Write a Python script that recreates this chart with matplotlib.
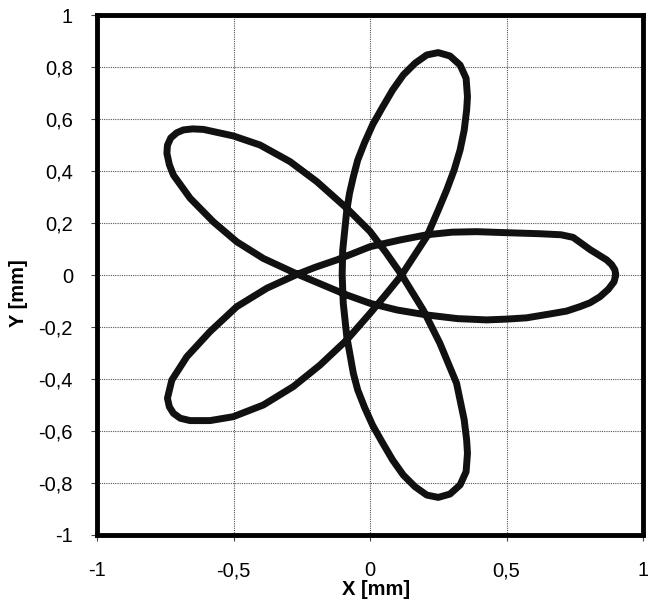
import matplotlib
matplotlib.use("Agg")
import matplotlib.pyplot as plt

plt.rcParams['font.family'] = ['Liberation Sans', 'DejaVu Sans']
plt.rcParams['axes.unicode_minus'] = False

# Digitized trajectory (mm), traced in order along the closed curve
x_mm = [0.900, 0.897, 0.885, 0.867, 0.806, 0.744, 0.700, 0.623, 0.500, 0.390,
        0.300, 0.208, 0.110, 0.000, -0.122, -0.200, -0.268, -0.378, -0.488, -0.586,
        -0.671, -0.726, -0.742, -0.735, -0.720, -0.695, -0.659, -0.586, -0.501, -0.391,
        -0.281, -0.183, -0.085, 0.000, 0.058, 0.116, 0.208, 0.250, 0.281, 0.308,
        0.330, 0.345, 0.354, 0.357, 0.352, 0.330, 0.293, 0.250, 0.208, 0.165,
        0.122, 0.083, 0.045, 0.010, -0.020, -0.045, -0.061, -0.075, -0.085, -0.100,
        -0.102, -0.098, -0.085, -0.061, -0.045, -0.020, 0.010, 0.045, 0.083, 0.122,
        0.165, 0.208, 0.250, 0.293, 0.330, 0.352, 0.357, 0.354, 0.345, 0.317,
        0.256, 0.195, 0.116, 0.058, 0.000, -0.085, -0.195, -0.293, -0.403, -0.501,
        -0.610, -0.650, -0.684, -0.708, -0.730, -0.742, -0.744, -0.735, -0.720, -0.659,
        -0.574, -0.488, -0.391, -0.268, -0.171, -0.085, 0.000, 0.100, 0.208, 0.320,
        0.427, 0.500, 0.574, 0.671, 0.720, 0.769, 0.806, 0.842, 0.873, 0.894,
        0.900]
y_mm = [0.000, 0.020, 0.040, 0.058, 0.098, 0.145, 0.155, 0.159, 0.163, 0.167,
        0.165, 0.155, 0.135, 0.109, 0.058, 0.030, 0.002, -0.051, -0.122, -0.218,
        -0.315, -0.405, -0.475, -0.508, -0.533, -0.552, -0.561, -0.561, -0.546, -0.501,
        -0.430, -0.347, -0.250, -0.148, -0.075, 0.000, 0.148, 0.250, 0.328, 0.404,
        0.482, 0.558, 0.636, 0.687, 0.758, 0.809, 0.844, 0.857, 0.848, 0.816,
        0.771, 0.713, 0.645, 0.580, 0.510, 0.443, 0.379, 0.315, 0.250, 0.096,
        0.000, -0.109, -0.238, -0.379, -0.443, -0.510, -0.580, -0.645, -0.713, -0.771,
        -0.816, -0.848, -0.857, -0.844, -0.809, -0.758, -0.687, -0.636, -0.558, -0.417,
        -0.263, -0.135, 0.000, 0.087, 0.168, 0.257, 0.360, 0.437, 0.501, 0.536,
        0.561, 0.563, 0.559, 0.548, 0.528, 0.500, 0.469, 0.425, 0.385, 0.296,
        0.205, 0.128, 0.064, 0.004, -0.039, -0.077, -0.109, -0.135, -0.154, -0.168,
        -0.173, -0.170, -0.165, -0.148, -0.139, -0.122, -0.107, -0.084, -0.055, -0.026,
        0.000]

x_ticks = [-1, -0.5, 0, 0.5, 1]
x_tick_labels = ['-1', '-0,5', '0', '0,5', '1']
y_ticks = [-1, -0.8, -0.6, -0.4, -0.2, 0, 0.2, 0.4, 0.6, 0.8, 1]
y_tick_labels = ['-1', '-0,8', '-0,6', '-0,4', '-0,2', '0', '0,2', '0,4', '0,6', '0,8', '1']

fig = plt.figure(figsize=(6.48, 6.05), dpi=100)
ax = fig.add_axes([0.1497, 0.1165, 0.8426, 0.8579])

ax.plot(x_mm, y_mm, color='#111111', lw=5, solid_joinstyle='round', solid_capstyle='round', zorder=3)

ax.set_xlim(-1, 1)
ax.set_ylim(-1, 1)
ax.set_xticks(x_ticks)
ax.set_xticklabels(x_tick_labels)
ax.set_yticks(y_ticks)
ax.set_yticklabels(y_tick_labels)

ax.grid(True, color='#555555', linestyle=(0, (1, 1)), lw=0.8, zorder=0)
for s in ax.spines.values():
    s.set_linewidth(3.5)
    s.set_color('black')
    s.set_zorder(4)

ax.tick_params(axis='both', direction='out', length=4.3, width=0.8, color='#444444',
               labelsize=14.5, labelcolor='black')
ax.tick_params(axis='x', pad=15)
ax.tick_params(axis='y', pad=13)

ax.set_xlabel('X [mm]', fontsize=14.5, fontweight='bold')
ax.set_ylabel('Y [mm]', fontsize=14.5, fontweight='bold')
ax.xaxis.set_label_coords(0.512, -0.0877)
ax.yaxis.set_label_coords(-0.126, 0.465)

fig.savefig('out.png', dpi=100)
